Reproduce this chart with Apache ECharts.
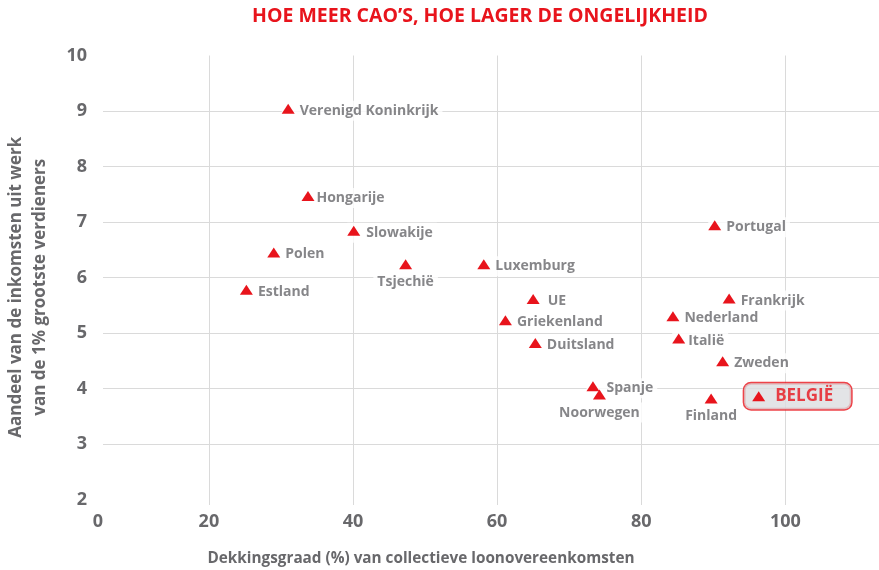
<!DOCTYPE html>
<html>
<head>
<meta charset="utf-8">
<script src="https://cdn.jsdelivr.net/npm/echarts@6/dist/echarts.min.js"></script>
<style>
html,body{margin:0;padding:0;background:#fff}
#main{width:879px;height:570px}
</style>
</head>
<body>
<div id="main"></div>
<script>
// data
var countries = ['Verenigd Koninkrijk','Hongarije','Slowakije','Polen','Estland','Tsjechië','Luxemburg','UE','Griekenland','Duitsland','Spanje','Noorwegen','Finland','Portugal','Frankrijk','Nederland','Italië','Zweden','BELGIË'];
var coverage = [31.0, 33.75, 40.1, 29.0, 25.2, 47.3, 58.15, 65.0, 61.15, 65.3, 73.3, 74.2, 89.7, 90.2, 92.2, 84.4, 85.2, 91.3, 96.3];
var topShare = [9.04, 7.47, 6.84, 6.45, 5.78, 6.24, 6.24, 5.61, 5.23, 4.82, 4.04, 3.89, 3.82, 6.94, 5.62, 5.30, 4.90, 4.49, 3.86];
var xTicks = [20, 40, 60, 80, 100];
var yTicks = [3, 4, 5, 6, 7, 8, 9];
var yLabels = [2, 3, 4, 5, 6, 7, 8, 9, 10];

// label placement (layout only)
var belowLabels = ['Tsjechië', 'Noorwegen', 'Finland'];
var gapTweak = { 'Hongarije': -3, 'UE': 3, 'Spanje': 2, 'Slowakije': 1, 'Italië': -2 };

var RED = '#e8141c';
var GREY = '#68686b';
var FONT = '"Open Sans", sans-serif';
var xMin = 5.3;

function labelFor(name) {
  if (name === 'BELGIË') {
    return {
      show: true, position: 'right', distance: -21, offset: [0, 0],
      padding: [4, 18, 4, 31],
      backgroundColor: '#dcdde0', borderColor: RED, borderWidth: 1.5, borderRadius: 7,
      color: RED, fontSize: 17, lineHeight: 18, fontWeight: 'bold', fontFamily: FONT
    };
  }
  if (belowLabels.indexOf(name) >= 0) {
    return { show: true, position: 'bottom', distance: 1, padding: [2, 4, 2, 4] };
  }
  return { show: true, position: 'right', distance: -13, padding: [2, 4, 2, 18 + (gapTweak[name] || 0)] };
}

var labelData = [], markData = [];
for (var i = 0; i < countries.length; i++) {
  labelData.push({ name: countries[i], value: [coverage[i], topShare[i]], label: labelFor(countries[i]) });
  markData.push({ name: countries[i], value: [coverage[i], topShare[i]] });
}

var myChart = echarts.init(document.getElementById('main'));
myChart.setOption({
  animation: false,
  title: {
    text: 'HOE MEER CAO’S, HOE LAGER DE ONGELIJKHEID',
    left: 247, top: 1,
    textStyle: { color: RED, fontSize: 19.5, fontWeight: 'bold', fontFamily: FONT }
  },
  grid: { left: 103, right: 0, top: 55.5, bottom: 65, outerBoundsMode: 'none', containLabel: false },
  xAxis: {
    type: 'value', min: xMin, max: 113,
    name: 'Dekkingsgraad (%) van collectieve loonovereenkomsten',
    nameLocation: 'middle', nameGap: 46,
    nameTextStyle: { color: GREY, fontSize: 15.3, fontWeight: 'bold', fontFamily: FONT, padding: [0, 140, 0, 0] },
    axisLine: { show: false },
    axisTick: { show: false, customValues: xTicks },
    splitLine: { show: true, lineStyle: { color: '#dadada', width: 1 } },
    axisLabel: {
      customValues: [xMin].concat(xTicks),
      formatter: function (v) { return v === xMin ? '0' : v; },
      alignMinLabel: 'right',
      margin: 8, color: GREY, fontSize: 18, fontWeight: 'bold', fontFamily: FONT
    }
  },
  yAxis: {
    type: 'value', min: 1.9, max: 10,
    name: 'Aandeel van de inkomsten uit werk\nvan de 1% grootste verdieners',
    nameLocation: 'middle', nameRotate: 90, nameGap: 51,
    nameTextStyle: { color: GREY, fontSize: 17, lineHeight: 24, fontWeight: 'bold', fontFamily: FONT, padding: [0, 14, 0, 0] },
    axisLine: { show: false },
    axisTick: { show: false, customValues: yTicks },
    splitLine: { show: true, lineStyle: { color: '#dadada', width: 1 } },
    axisLabel: {
      customValues: yLabels,
      margin: 16, color: GREY, fontSize: 18, fontWeight: 'bold', fontFamily: FONT
    }
  },
  series: [
    {
      type: 'scatter', z: 2,
      symbol: 'triangle', symbolSize: [13, 10],
      itemStyle: { color: 'rgba(0,0,0,0)' },
      label: {
        show: true, formatter: '{b}', color: GREY, fontSize: 14, lineHeight: 16, offset: [0, 2],
        fontWeight: 'bold', fontFamily: FONT, backgroundColor: '#fff'
      },
      emphasis: { disabled: true },
      data: labelData
    },
    {
      type: 'scatter', z: 3, silent: true,
      symbol: 'triangle', symbolSize: [13, 10],
      itemStyle: { color: RED, opacity: 1 },
      label: { show: false },
      data: markData
    }
  ]
});
</script>
</body>
</html>
